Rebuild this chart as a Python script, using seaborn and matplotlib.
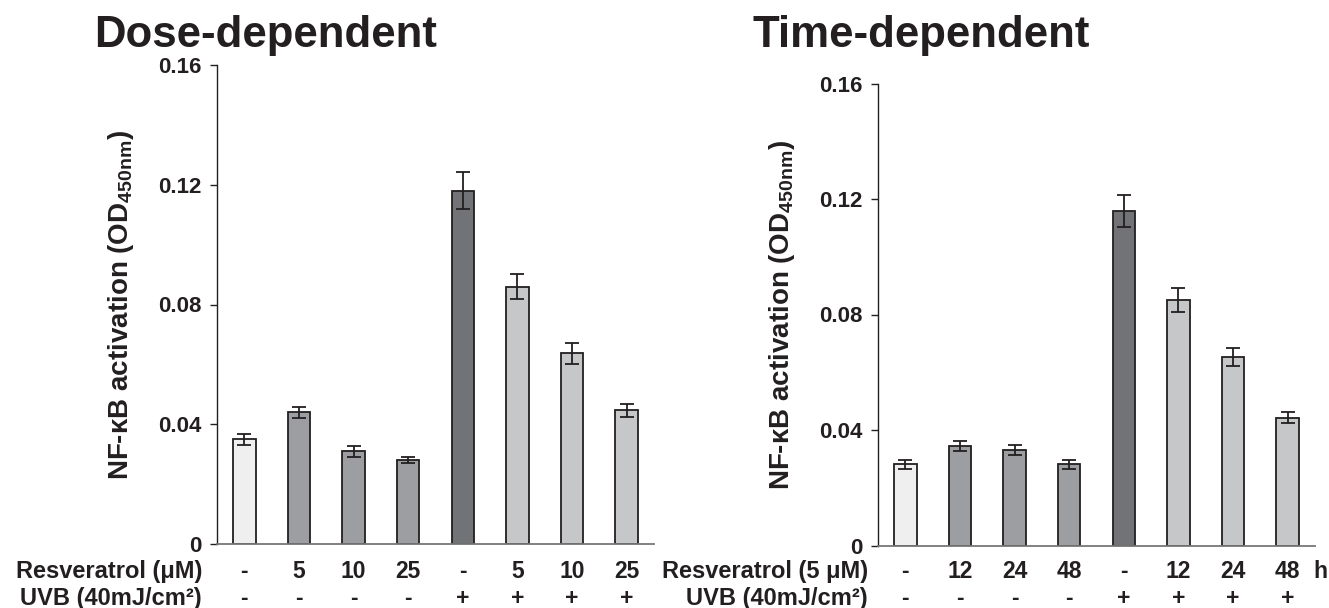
import numpy as np
import pandas as pd
import matplotlib
matplotlib.use("Agg")
import matplotlib.pyplot as plt
import seaborn as sns
from matplotlib.transforms import blended_transform_factory

# ---------- Data ----------
groups = ["ctrl", "R1", "R2", "R3", "UVB", "UVB+R1", "UVB+R2", "UVB+R3"]

dose_values = [0.035, 0.044, 0.031, 0.028, 0.118, 0.086, 0.0637, 0.0447]
dose_errors = [0.0018, 0.0019, 0.0018, 0.0011, 0.0062, 0.0042, 0.0036, 0.0022]
dose_resv = ["-", "5", "10", "25", "-", "5", "10", "25"]

time_values = [0.0281, 0.0344, 0.0331, 0.0281, 0.1158, 0.0851, 0.0652, 0.0443]
time_errors = [0.0015, 0.0018, 0.0018, 0.0015, 0.0056, 0.0042, 0.0031, 0.0019]
time_resv = ["-", "12", "24", "48", "-", "12", "24", "48"]

uvb_row = ["-", "-", "-", "-", "+", "+", "+", "+"]

bar_colors = ["#efefef", "#9d9ea2", "#9d9ea2", "#9d9ea2",
              "#727377", "#c6c7c9", "#c6c7c9", "#c6c7c9"]

# ---------- Style ----------
sns.set_theme(style="white")
plt.rcParams["font.family"] = ["Liberation Sans", "DejaVu Sans"]
plt.rcParams["font.weight"] = "bold"
plt.rcParams["mathtext.fontset"] = "custom"
plt.rcParams["mathtext.rm"] = "Liberation Sans:bold"
plt.rcParams["mathtext.default"] = "rm"
ink = "#231f20"

fig = plt.figure(figsize=(13.29, 6.08), dpi=100)
W, H = 1329, 608
ax1 = fig.add_axes([217 / W, (H - 544) / H, 437 / W, 479 / H])
ax2 = fig.add_axes([878 / W, (H - 545.5) / H, 437 / W, 462 / H])

ROW1 = 1 - 578 / H   # baseline of the resveratrol row
ROW2 = 1 - 605 / H   # baseline of the UVB row


def draw_panel(ax, values, errors, resv):
    df = pd.DataFrame({"group": groups, "value": values})
    sns.barplot(data=df, x="group", y="value", hue="group", palette=bar_colors,
                legend=False, width=0.41, edgecolor=ink, linewidth=1.3,
                saturation=1, errorbar=None, ax=ax)
    ax.errorbar(np.arange(len(values)), values, yerr=errors, fmt="none",
                ecolor=ink, elinewidth=1.3, capsize=5, capthick=1.3)
    ax.set_xlim(-0.5, 7.5)
    ax.set_ylim(0, 0.16)
    ax.set_yticks([0, 0.04, 0.08, 0.12, 0.16])
    ax.set_yticklabels(["0", "0.04", "0.08", "0.12", "0.16"])
    ax.set_xticks(np.arange(len(values)))
    ax.set_xticklabels([])
    ax.tick_params(axis="x", length=0)
    ax.tick_params(axis="y", left=True, length=5, width=1, color=ink,
                   labelsize=16, labelcolor=ink, pad=6, direction="out")
    for lab in ax.get_yticklabels():
        lab.set_fontweight("bold")
    ax.set_xlabel("")
    ax.set_ylabel("NF-κB activation (OD$_{450nm}$)", fontsize=20,
                  fontweight="bold", color=ink, labelpad=16)
    for side in ["top", "right"]:
        ax.spines[side].set_visible(False)
    ax.spines["left"].set_color(ink)
    ax.spines["left"].set_linewidth(1)
    ax.spines["bottom"].set_color("#777777")
    ax.spines["bottom"].set_linewidth(1.3)

    # two rows of condition labels under the bars
    tr = blended_transform_factory(ax.transData, fig.transFigure)
    for i, (r, u) in enumerate(zip(resv, uvb_row)):
        ax.text(i, ROW1, r, transform=tr, ha="center", va="baseline",
                fontsize=16.5, fontweight="bold", color=ink)
        ax.text(i, ROW2, u, transform=tr, ha="center", va="baseline",
                fontsize=16.5, fontweight="bold", color=ink)
    return tr


draw_panel(ax1, dose_values, dose_errors, dose_resv)
tr2 = draw_panel(ax2, time_values, time_errors, time_resv)

# "h" after the last time label
ax2.text(7.6, ROW1, "h", transform=tr2, ha="center", va="baseline",
         fontsize=16.5, fontweight="bold", color=ink)

# titles
fig.text(266 / W, 1 - 47 / H, "Dose-dependent", ha="center", va="baseline",
         fontsize=31.5, fontweight="bold", color=ink)
fig.text(921 / W, 1 - 47 / H, "Time-dependent", ha="center", va="baseline",
         fontsize=31.5, fontweight="bold", color=ink)

# row labels
fig.text(202 / W, ROW1, "Resveratrol (μM)", ha="right", va="baseline",
         fontsize=17, fontweight="bold", color=ink)
fig.text(202 / W, ROW2, "UVB (40mJ/cm²)", ha="right", va="baseline",
         fontsize=17, fontweight="bold", color=ink)
fig.text(868 / W, ROW1, "Resveratrol (5 μM)", ha="right", va="baseline",
         fontsize=17, fontweight="bold", color=ink)
fig.text(868 / W, ROW2, "UVB (40mJ/cm²)", ha="right", va="baseline",
         fontsize=17, fontweight="bold", color=ink)

fig.savefig("out.png", dpi=100, facecolor="white")
